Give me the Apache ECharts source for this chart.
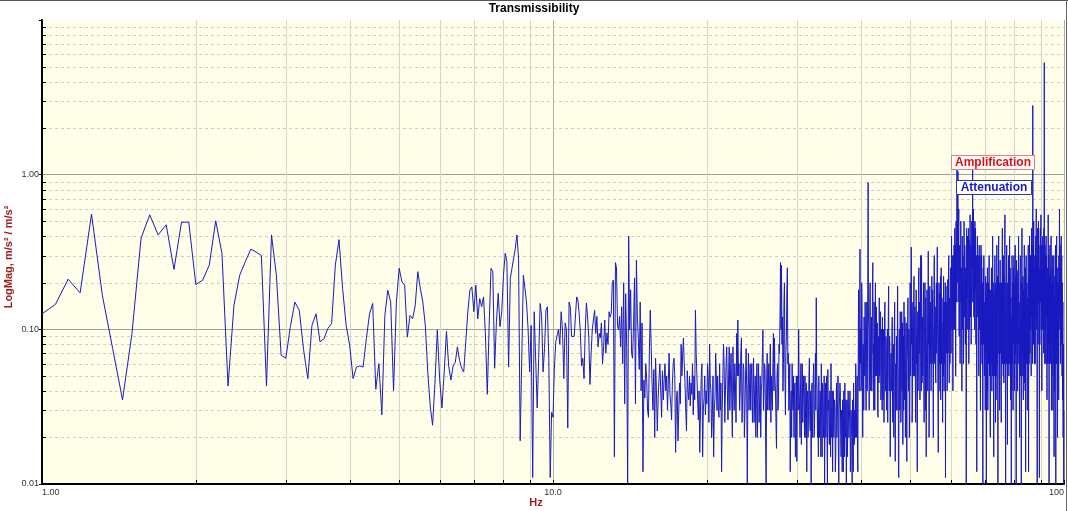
<!DOCTYPE html>
<html><head><meta charset="utf-8">
<script src="https://cdn.jsdelivr.net/npm/echarts@6/dist/echarts.min.js"></script>
<style>html,body{margin:0;padding:0;background:#fff}#c{width:1068px;height:511px}</style>
</head><body><div id="c"></div>
<script>
// Tick labels
const xTickValues = [1, 10, 100];
const xTickText = ['1.00', '10.0', '100'];
const yTickValues = [0.01, 0.1, 1];
const yTickText = ['0.01', '0.10', '1.00'];
const xMinorTicks = [2,3,4,5,6,7,8,9,20,30,40,50,60,70,80,90];
const yMinorTicks = [0.02,0.03,0.04,0.05,0.06,0.07,0.08,0.09,0.2,0.3,0.4,0.5,0.6,0.7,0.8,0.9,2,3,4,5,6,7,8,9];

// Transmissibility magnitude, one row per 1 Hz (1/16 Hz bins), 1..10 Hz
const mag1to10 = [
 [.126,.145,.211,.172,.556,.166,.075,.035,.094,.388,.55,.408,.474,.244,.493,.493],
 [.195,.208,.26,.503,.31,.043,.143,.224,.274,.33,.316,.30,.043,.408,.224,.068],
 [.065,.104,.150,.133,.074,.048,.106,.126,.083,.087,.101,.109,.26,.38,.184,.106],
 [.079,.048,.057,.058,.057,.087,.126,.147,.041,.060,.028,.123,.179,.150,.040,.15],
 [.248,.203,.193,.089,.123,.117,.143,.236,.184,.15,.106,.053,.032,.024,.045,.099],
 [.048,.031,.053,.097,.058,.047,.058,.061,.077,.063,.056,.053,.083,.13,.179,.188],
 [.13,.193,.117,.158,.14,.162,.092,.038,.106,.248,.236,.056,.112,.171,.104,.13],
 [.224,.31,.273,.057,.213,.248,.254,.334,.408,.288,.019,.065,.224,.218,.15,.101],
 [.053,.106,.011,.13,.133,.031,.065,.147,.123,.053,.075,.133,.14,.065,.011,.029]
];
// 10..20 Hz
const mag10to20 = [
 [.027,.056,.083,.083,.10,.08,.13,.099,.048,.11,.10,.023,.15,.14,.09,.088],
 [.09,.088,.162,.155,.127,.095,.058,.065,.048,.099,.148,.12,.088,.044,.07,.10],
 [.099,.133,.094,.121,.077,.094,.088,.11,.06,.077,.115,.07,.095,.08,.13,.12],
 [.127,.2,.208,.015,.27,.25,.105,.099,.121,.077,.14,.06,.2,.033,.17,.077],
 [.010,.40,.099,.18,.07,.065,.105,.215,.033,.28,.12,.088,.055,.15,.04,.11],
 [.012,.047,.036,.06,.048,.03,.027,.07,.133,.08,.045,.03,.055,.02,.065,.04],
 [.022,.036,.048,.06,.04,.027,.054,.035,.047,.06,.04,.05,.03,.045,.07,.038],
 [.033,.026,.045,.06,.065,.05,.016,.035,.04,.019,.03,.045,.033,.08,.05,.07],
 [.088,.06,.045,.03,.022,.054,.04,.035,.05,.032,.045,.038,.06,.028,.05,.035],
 [.133,.07,.05,.035,.026,.04,.016,.03,.048,.06,.015,.03,.036,.05,.028,.04]
];
// 20..46 Hz
const mag20to46 = [
 [.033,.06,.05,.025,.08,.045,.04,.02,.027,.05,.015,.03,.036,.07,.05,.03],
 [.05,.03,.027,.06,.03,.045,.012,.03,.05,.08,.057,.025,.04,.06,.077,.04],
 [.026,.05,.077,.03,.05,.07,.035,.02,.077,.04,.03,.06,.045,.025,.094,.05],
 [.115,.05,.06,.03,.04,.07,.088,.025,.035,.06,.055,.02,.03,.05,.075,.04],
 [.01,.04,.07,.03,.045,.06,.03,.05,.06,.025,.04,.065,.025,.04,.05,.02],
 [.035,.06,.02,.04,.06,.025,.033,.05,.02,.04,.045,.07,.099,.03,.04,.06],
 [.055,.02,.01,.045,.07,.03,.04,.06,.03,.05,.08,.025,.05,.035,.03,.06],
 [.094,.04,.088,.05,.04,.025,.017,.05,.06,.03,.035,.08,.07,.12,.27,.1],
 [.26,.08,.12,.04,.06,.15,.2,.05,.028,.07,.09,.18,.25,.06,.07,.03],
 [.035,.06,.012,.03,.04,.02,.06,.035,.03,.05,.02,.04,.045,.015,.025,.05],
 [.014,.04,.05,.03,.1,.045,.03,.02,.04,.06,.018,.035,.06,.025,.025,.05],
 [.035,.02,.05,.03,.02,.045,.012,.035,.04,.02,.03,.05,.065,.025,.022,.04],
 [.009,.03,.045,.02,.03,.05,.06,.02,.025,.04,.07,.03,.16,.05,.04,.02],
 [.03,.015,.05,.03,.02,.04,.035,.015,.06,.03,.015,.045,.04,.02,.025,.05],
 [.009,.03,.045,.02,.03,.05,.02,.01,.055,.03,.035,.02,.018,.04,.03,.015],
 [.06,.02,.025,.04,.012,.03,.04,.02,.02,.035,.03,.012,.015,.03,.045,.02],
 [.02,.035,.05,.015,.009,.03,.03,.045,.04,.02,.015,.03,.025,.012,.035,.02],
 [.012,.04,.03,.015,.045,.025,.02,.035,.009,.02,.035,.015,.025,.04,.04,.02],
 [.02,.03,.04,.012,.015,.03,.03,.02,.009,.035,.025,.012,.045,.025,.018,.03],
 [.03,.02,.06,.025,.02,.04,.05,.015,.012,.06,.18,.05,.04,.09,.33,.06],
 [.1,.04,.045,.2,.14,.05,.02,.08,.07,.03,.12,.06,.05,.15,.09,.04],
 [.03,.08,.15,.04,.06,.25,.89,.12,.1,.03,.05,.14,.2,.06,.04,.1],
 [.12,.04,.06,.18,.27,.07,.08,.03,.15,.1,.03,.06,.2,.05,.09,.14],
 [.05,.09,.11,.03,.027,.08,.09,.045,.16,.05,.06,.12,.13,.035,.04,.1],
 [.07,.03,.12,.06,.035,.1,.09,.025,.055,.13,.15,.05,.04,.09,.08,.03],
 [.03,.07,.1,.025,.06,.12,.19,.05,.04,.09,.08,.015,.02,.06,.07,.04]
];
// 46..100 Hz
const mag46to100 = [
 [.05,.1,.12,.03,.025,.07,.08,.02,.04,.11,.15,.04,.014,.05,.06,.03],
 [.09,.04,.03,.08,.19,.06,.05,.012,.011,.07,.1,.03,.04,.13,.07,.025],
 [.03,.08,.13,.04,.06,.11,.018,.05,.09,.03,.15,.07,.035,.12,.08,.02],
 [.05,.09,.11,.03,.014,.06,.07,.12,.16,.05,.04,.1,.09,.02,.025,.08],
 [.2,.05,.06,.15,.34,.08,.1,.025,.03,.12,.15,.05,.07,.18,.22,.06],
 [.05,.14,.12,.04,.025,.09,.18,.06,.09,.03,.012,.08,.13,.04,.06,.2],
 [.25,.07,.08,.15,.035,.06,.17,.3,.1,.04,.3,.12,.045,.08,.12,.05],
 [.07,.15,.2,.04,.025,.09,.11,.2,.06,.03,.16,.07,.015,.06,.09,.18],
 [.14,.06,.04,.12,.32,.08,.1,.02,.03,.11,.19,.06,.07,.15,.12,.04],
 [.04,.1,.22,.06,.08,.18,.15,.04,.02,.09,.11,.25,.3,.07,.06,.14],
 [.13,.05,.045,.1,.2,.07,.09,.15,.34,.12,.07,.03,.016,.08,.12,.2],
 [.06,.12,.17,.04,.1,.22,.035,.08,.25,.06,.08,.16,.14,.05,.025,.09],
 [.11,.05,.22,.09,.04,.12,.15,.06,.08,.2,.011,.07,.19,.1,.07,.15],
 [.13,.04,.05,.18,.21,.07,.09,.25,.3,.1,.045,.12,.16,.06,.1,.22],
 [.25,.09,.07,.2,.4,.1,.12,.3,.2,.06,.04,.15,.3,.1,.15,.35],
 [.1,.25,.45,.12,.18,.35,.05,.2,.5,.15,.25,.4,1.08,.2,.3,.6],
 [1.05,.15,.2,.45,.6,.1,.09,.3,.35,.12,.06,.2,.28,.5,.15,.25],
 [.2,.08,.04,.15,.4,.1,.13,.3,.25,.06,.07,.2,.5,.12,.18,.35],
 [.3,.12,.08,.25,.22,.06,.009,.15,.45,.2,.16,.4,.35,.1,.1,.25],
 [.25,.45,.06,.15,.38,.1,.2,.3,.55,.15,.12,.35,.3,.08,.08,.2],
 [.5,.15,.2,.4,1.1,.25,.35,.15,.6,.3,.12,.45,.4,.1,.25,.5],
 [.18,.3,.45,.12,.08,.25,.3,.1,.012,.2,.25,.4,.4,.12,.12,.3],
 [.2,.08,.05,.25,.35,.12,.1,.3,.28,.06,.03,.15,.22,.35,.08,.18],
 [.3,.1,.06,.2,.18,.05,.009,.12,.25,.08,.1,.3,.2,.06,.05,.15],
 [.15,.06,.03,.18,.22,.08,.07,.2,.01,.1,.16,.04,.05,.25,.12,.03],
 [.04,.15,.2,.06,.08,.25,.3,.1,.05,.18,.14,.035,.02,.1,.18,.06],
 [.07,.2,.25,.08,.04,.12,.15,.05,.4,.1,.06,.2,.12,.04,.015,.1],
 [.17,.06,.05,.22,.3,.1,.08,.025,.2,.12,.035,.18,.14,.05,.35,.1],
 [.06,.15,.22,.05,.009,.1,.13,.3,.4,.07,.08,.2,.18,.03,.04,.12],
 [.28,.1,.07,.2,.15,.04,.025,.12,.2,.06,.1,.3,.45,.12,.06,.2],
 [.16,.05,.3,.12,.045,.18,.22,.06,.08,.3,.55,.15,.11,.04,.009,.2],
 [.19,.08,.06,.25,.35,.1,.1,.03,.018,.12,.2,.06,.07,.22,.3,.1],
 [.05,.18,.15,.06,.4,.12,.08,.25,.22,.05,.035,.14,.16,.04,.009,.1],
 [.12,.04,.3,.15,.06,.2,.18,.05,.03,.12,.25,.08,.08,.3,.14,.04],
 [.045,.15,.2,.06,.35,.1,.07,.22,.15,.04,.009,.12,.28,.08,.09,.2],
 [.17,.05,.04,.2,.24,.08,.1,.3,.4,.12,.06,.15,.15,.035,.02,.1],
 [.08,.22,.3,.07,.05,.15,.2,.06,.009,.1,.16,.3,.45,.12,.07,.2],
 [.14,.05,.22,.1,.035,.15,.18,.06,.08,.25,.35,.1,.045,.16,.12,.04],
 [.25,.08,.012,.1,.13,.3,.3,.07,.06,.18,.2,.05,.03,.12,.16,.06],
 [.08,.2,.35,.1,.012,.15,.22,.06,.12,.3,.4,.1,.07,.2,.3,.1],
 [.1,.3,.25,.07,.05,.2,.45,.12,.14,.35,.3,.1,.18,.06,2.8,.2],
 [.35,.1,.08,.25,.5,.15,.12,.3,.3,.08,.06,.2,.25,.06,.1,.3],
 [.4,.12,.15,.35,.6,.2,.1,.25,.3,.07,.009,.12,.22,.45,.35,.1],
 [.08,.2,.5,.15,.15,.35,.3,.1,.011,.2,.25,.08,.12,.35,.45,.15],
 [.18,.4,.55,.15,.1,.25,.35,.08,.04,.15,.28,.1,.14,.3,.4,.12],
 [.12,.35,.3,.1,.07,.2,.45,.15,5.3,.25,.2,.06,.35,.12,.1,.3],
 [.25,.1,.06,.2,.4,.15,.12,.3,.3,.08,.035,.15,.2,.06,.08,.25],
 [.18,.06,.55,.2,.08,.25,.3,.1,.01,.15,.22,.06,.1,.3,.35,.12],
 [.06,.2,.25,.08,.12,.35,.4,.1,.03,.12,.2,.05,.08,.25,.3,.1],
 [.1,.25,.03,.08,.2,.06,.07,.18,.3,.1,.015,.08,.15,.04,.05,.2],
 [.22,.06,.08,.3,.35,.1,.009,.15,.18,.06,.1,.3,.4,.12,.06,.2],
 [.15,.05,.02,.12,.25,.08,.08,.2,.2,.06,.035,.15,.3,.1,.1,.45],
 [.6,.2,.12,.3,.35,.1,.06,.2,.25,.08,.1,.3,.4,.12,.08,.25],
 [.3,.1,.05,.15,.2,.06,.035,.12,.15,.04,.02,.08,.07,.02,.009,.03]
];

const points = [];
function addRows(startHz, rows) {
  rows.forEach((row, h) => row.forEach((v, j) => points.push([startHz + h + j / row.length, v])));
}
addRows(1, mag1to10);
addRows(10, mag10to20);
addRows(20, mag20to46);
addRows(46, mag46to100);

function pickLabel(vals, texts) {
  return function (v) {
    const i = vals.findIndex(t => Math.abs(Math.log10(v / t)) < 0.01);
    return i < 0 ? '' : texts[i];
  };
}

const FONT = '"Liberation Sans", Arial, sans-serif';
const chart = echarts.init(document.getElementById('c'), null, {renderer: 'canvas'});
chart.setOption({
  animation: false,
  backgroundColor: '#ffffff',
  title: {
    text: 'Transmissibility', left: 'center', top: 3, padding: 0,
    textStyle: {fontSize: 12, fontWeight: 'bold', color: '#000', fontFamily: FONT}
  },
  grid: {left: 42, right: 4, top: 20, bottom: 27, show: true, backgroundColor: '#fefee9', borderWidth: 0},
  xAxis: {
    type: 'log', logBase: 10, min: 1, max: 100,
    axisLine: {onZero: false, lineStyle: {color: '#000', width: 2}},
    axisTick: {inside: true, length: 4, lineStyle: {color: '#000'}},
    axisLabel: {formatter: pickLabel(xTickValues, xTickText), fontSize: 9, color: '#333', fontFamily: FONT,
      margin: 4, alignMinLabel: 'left', alignMaxLabel: 'right'},
    splitLine: {show: true, lineStyle: {color: '#b0b0a4', width: 1}}
  },
  yAxis: {
    type: 'log', logBase: 10, min: 0.01, max: 10,
    axisLine: {onZero: false, lineStyle: {color: '#000', width: 2}},
    axisTick: {inside: false, length: 3, lineStyle: {color: '#000'}},
    axisLabel: {formatter: pickLabel(yTickValues, yTickText), fontSize: 9, color: '#333', fontFamily: FONT, margin: 3},
    splitLine: {show: true, showMaxLine: false, lineStyle: {color: '#a0a09a', width: 1}}
  },
  series: [
    {
      type: 'custom', silent: true, z: 1,
      data: yMinorTicks.map(v => [1, v]),
      renderItem(params, api) {
        const cs = params.coordSys;
        const p = api.coord([api.value(0), api.value(1)]);
        const y = Math.round(p[1]) + 0.5;
        return {type: 'group', children: [
          {type: 'line', shape: {x1: cs.x + 1, y1: y, x2: cs.x + cs.width, y2: y}, style: {stroke: '#cfcfc0', lineWidth: 1, lineDash: [3, 3]}},
          {type: 'line', shape: {x1: cs.x, y1: y, x2: cs.x + 4, y2: y}, style: {stroke: '#000', lineWidth: 1}}
        ]};
      }
    },
    {
      type: 'custom', silent: true, z: 1,
      data: xMinorTicks.map(v => [v, 1]),
      renderItem(params, api) {
        const cs = params.coordSys;
        const p = api.coord([api.value(0), api.value(1)]);
        const x = Math.round(p[0]) + 0.5;
        return {type: 'group', children: [
          {type: 'line', shape: {x1: x, y1: cs.y, x2: x, y2: cs.y + cs.height}, style: {stroke: '#d6d6c8', lineWidth: 1}},
          {type: 'line', shape: {x1: x, y1: cs.y + cs.height - 4, x2: x, y2: cs.y + cs.height}, style: {stroke: '#000', lineWidth: 1}}
        ]};
      }
    },
    {
      type: 'line', data: points, showSymbol: false, symbol: 'none', silent: true, z: 3,
      clip: true,
      lineStyle: {color: '#1a1ac0', width: 1}
    }
  ],
  graphic: [
    {type: 'rect', shape: {x: 0, y: 0, width: 1068, height: 1}, style: {fill: '#555'}, z: 100},
    {type: 'rect', shape: {x: 1066, y: 0, width: 1, height: 511}, style: {fill: '#666'}, z: 100},
    {type: 'text', x: 9, y: 257, rotation: Math.PI / 2,
      style: {text: 'LogMag, m/s² / m/s²', fill: '#9a1c1c', font: 'bold 11px ' + FONT, align: 'center', verticalAlign: 'middle'}, z: 100},
    {type: 'text', x: 536, y: 503,
      style: {text: 'Hz', fill: '#9a1c1c', font: 'bold 11px ' + FONT, align: 'center', verticalAlign: 'middle'}, z: 100},
    {type: 'rect', shape: {x: 951.5, y: 155.5, width: 83, height: 14}, style: {fill: '#fff', stroke: '#e08080', lineWidth: 1}, z: 100},
    {type: 'text', x: 993, y: 163, style: {text: 'Amplification', fill: '#e01010', font: 'bold 12px ' + FONT, align: 'center', verticalAlign: 'middle'}, z: 101},
    {type: 'rect', shape: {x: 956.5, y: 180.5, width: 75, height: 14}, style: {fill: '#fff', stroke: '#3030b0', lineWidth: 1}, z: 100},
    {type: 'text', x: 994, y: 188, style: {text: 'Attenuation', fill: '#1a1ac8', font: 'bold 12px ' + FONT, align: 'center', verticalAlign: 'middle'}, z: 101}
  ]
});
</script>
</body></html>
